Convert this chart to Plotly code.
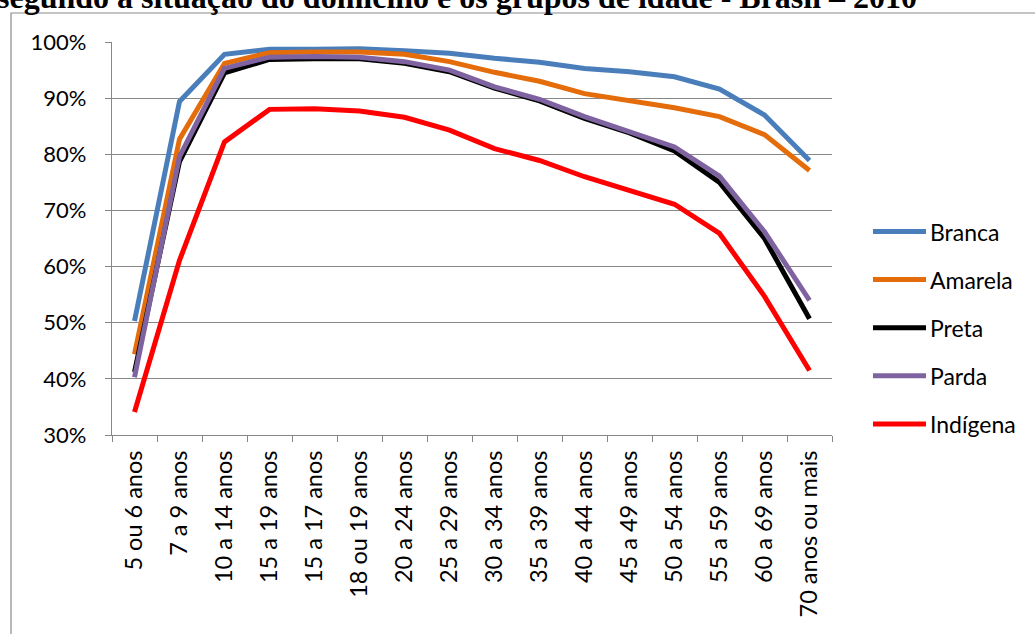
import plotly.graph_objects as go

idades = [
    "5 ou 6 anos", "7 a 9 anos", "10 a 14 anos", "15 a 19 anos", "15 a 17 anos",
    "18 ou 19 anos", "20 a 24 anos", "25 a 29 anos", "30 a 34 anos", "35 a 39 anos",
    "40 a 44 anos", "45 a 49 anos", "50 a 54 anos", "55 a 59 anos", "60 a 69 anos",
    "70 anos ou mais",
]

branca = [50.3, 89.4, 97.8, 98.7, 98.7, 98.8, 98.45, 98.0, 97.1, 96.4, 95.3, 94.7, 93.8, 91.6, 87.0, 78.9]
amarela = [44.4, 82.7, 96.2, 98.1, 98.2, 98.2, 97.8, 96.5, 94.6, 93.0, 90.8, 89.6, 88.3, 86.7, 83.5, 77.1]
preta = [41.2, 78.7, 94.5, 96.9, 97.0, 97.0, 96.2, 94.7, 91.8, 89.5, 86.4, 83.8, 80.6, 75.0, 65.0, 50.7]
parda = [40.3, 79.6, 95.3, 97.3, 97.4, 97.3, 96.5, 95.0, 92.0, 89.8, 86.7, 84.1, 81.3, 76.1, 66.2, 54.0]
indigena = [34.1, 61.1, 82.2, 88.0, 88.1, 87.7, 86.6, 84.3, 81.0, 78.9, 76.0, 73.5, 71.1, 65.9, 54.7, 41.5]

series = [
    ("Branca", branca, "#4a7ebb"),
    ("Amarela", amarela, "#e46c0a"),
    ("Preta", preta, "#000000"),
    ("Parda", parda, "#7f63a1"),
    ("Indígena", indigena, "#ff0000"),
]

FONT = "Lato"
GRID = "#878787"

fig = go.Figure()

for nome, vals, cor in series:
    fig.add_trace(go.Scatter(
        x=idades,
        y=[v / 100 for v in vals],
        mode="lines",
        name=nome,
        line=dict(color=cor, width=5),
        showlegend=False,
    ))

# plot area in pixels: x 112..832, y 42..435
L, R, T, B = 112, 832, 42, 435
W, H = R - L, B - T


def px(x):
    return (x - L) / W


def py(y):
    return (B - y) / H


shapes = []
annotations = []

# outer chart box (only the left and top edges are in view)
shapes.append(dict(
    type="rect", xref="paper", yref="paper",
    x0=px(11), x1=px(1045), y0=py(650), y1=py(13),
    line=dict(color="#8a8a8a", width=1.2), fillcolor="rgba(0,0,0,0)", layer="below",
))

# manual legend
for k, (nome, vals, cor) in enumerate(series):
    yy = 231.5 + k * 48.1
    shapes.append(dict(
        type="line", xref="paper", yref="paper",
        x0=px(873), x1=px(926), y0=py(yy), y1=py(yy),
        line=dict(color=cor, width=5),
    ))
    annotations.append(dict(
        text=nome, xref="paper", yref="paper",
        x=px(928), y=py(yy), xanchor="left", yanchor="middle",
        showarrow=False, font=dict(family=FONT, size=23, color="#000000"),
    ))

# title, cut off at top of the page
annotations.append(dict(
    text="<b>segundo a situação do domicílio e os grupos de idade - Brasil – 2010</b>",
    xref="paper", yref="paper", x=px(-5), y=py(17),
    xanchor="left", yanchor="bottom",
    showarrow=False, font=dict(family="Liberation Serif", size=32, color="#000000"),
))

fig.update_layout(
    width=1035, height=634,
    margin=dict(l=L, r=1035 - R, t=T, b=634 - B),
    paper_bgcolor="white",
    plot_bgcolor="white",
    font=dict(family=FONT, size=22, color="#000000"),
    shapes=shapes,
    annotations=annotations,
    showlegend=False,
)

fig.update_xaxes(
    type="category",
    tickangle=-90,
    tickson="boundaries",
    ticks="outside", ticklen=6, tickcolor=GRID, tickwidth=1.3,
    showline=True, linecolor=GRID, linewidth=1.3,
    showgrid=False,
    tickfont=dict(family=FONT, size=23.5),
    ticklabelstandoff=5,
    range=[-0.5, len(idades) - 0.5],
)

fig.update_yaxes(
    range=[0.3, 1.0],
    dtick=0.1,
    tickformat=".0%",
    ticks="outside", ticklen=6, tickcolor=GRID, tickwidth=1.3,
    showline=True, linecolor=GRID, linewidth=1.3,
    showgrid=True, gridcolor=GRID, gridwidth=1.3,
    zeroline=False,
    tickfont=dict(family=FONT, size=22),
    ticklabelstandoff=14,
)

fig.write_html(
    "out.html",
    config={"displayModeBar": False},
    post_script="document.body.style.margin='0';",
)
